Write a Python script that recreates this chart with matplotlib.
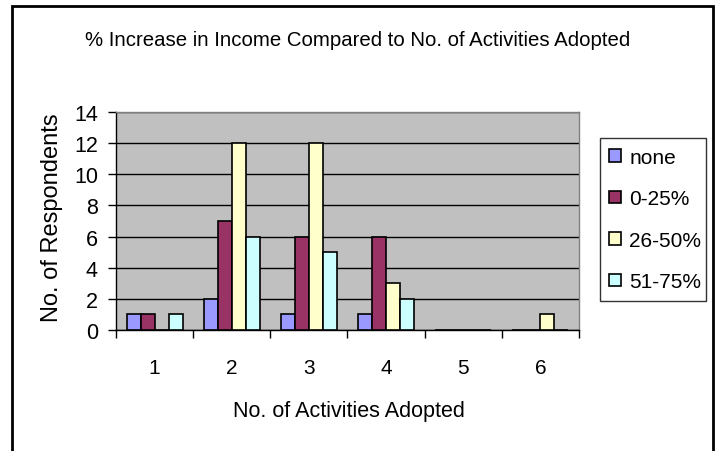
import numpy as np
import matplotlib
matplotlib.use("Agg")
import matplotlib.pyplot as plt
from matplotlib.patches import Rectangle

# Data
activities = ["1", "2", "3", "4", "5", "6"]
series_names = ["none", "0-25%", "26-50%", "51-75%"]
none_vals = [1, 2, 1, 1, 0, 0]
low_vals = [1, 7, 6, 6, 0, 0]
mid_vals = [0, 12, 12, 3, 0, 1]
high_vals = [1, 6, 5, 2, 0, 0]
yticks = [0, 2, 4, 6, 8, 10, 12, 14]

colors = ["#9999FF", "#993366", "#FFFFCC", "#CCFFFF"]

plt.rcParams['font.family'] = ['Liberation Sans', 'DejaVu Sans']

W, H = 718, 452
fig = plt.figure(figsize=(W / 100, H / 100), dpi=100)
fig.patch.set_facecolor("white")

# plot area in pixel coords
left, right, top, bottom = 116, 579, 113, 331
ax = fig.add_axes([left / W, 1 - bottom / H, (right - left) / W, (bottom - top) / H])
ax.set_facecolor("#C0C0C0")

x = np.arange(len(activities))
bw = 1 / 5.5  # Excel gap width 150%
all_vals = [none_vals, low_vals, mid_vals, high_vals]
for i, (vals, name, c) in enumerate(zip(all_vals, series_names, colors)):
    ax.bar(x + (i - 1.5) * bw, vals, width=bw, color=c, edgecolor="black",
           linewidth=1.2, label=name, zorder=3)

ax.set_xlim(-0.5, len(activities) - 0.5)
ax.set_ylim(0, 14)
ax.set_yticks(yticks)
ax.yaxis.grid(True, color="black", linewidth=1, zorder=1)
ax.set_axisbelow(True)

ax.set_xticks(x)
ax.set_xticklabels(activities)
ax.set_xticks(np.arange(len(activities) + 1) - 0.5, minor=True)
ax.tick_params(axis="x", which="major", length=0, pad=20, labelsize=15)
ax.tick_params(axis="x", which="minor", length=6, width=1, direction="out")
ax.tick_params(axis="y", length=6, width=1, direction="out", pad=7, labelsize=15.5)

for s in ["top", "right"]:
    ax.spines[s].set_color("#808080")
    ax.spines[s].set_linewidth(1)
for s in ["left", "bottom"]:
    ax.spines[s].set_color("black")
    ax.spines[s].set_linewidth(1)

fig.text(358 / W, 1 - 41 / H, "% Increase in Income Compared to No. of Activities Adopted",
         ha="center", va="center", fontsize=14.7)
fig.text(349 / W, 1 - 412 / H, "No. of Activities Adopted", ha="center", va="center", fontsize=15.5)
fig.text(52 / W, 1 - 218 / H, "No. of Respondents", ha="center", va="center",
         rotation=90, fontsize=17)

leg = ax.legend(loc="center", bbox_to_anchor=(600 / W, 1 - 303 / H, 106 / W, 165 / H),
                bbox_transform=fig.transFigure, mode="expand", frameon=True, fancybox=False,
                fontsize=15, handlelength=0.55, handleheight=0.55, handletextpad=0.4,
                labelspacing=1.08, borderaxespad=0, borderpad=0.45)
leg.get_frame().set_edgecolor("black")
leg.get_frame().set_linewidth(1)

# outer chart border
fig.patches.append(Rectangle((12 / W, -0.05), (713 - 12) / W, 1 - 7 / H + 0.05,
                             transform=fig.transFigure, fill=False,
                             edgecolor="black", linewidth=2))

fig.savefig("out.png", dpi=100)
